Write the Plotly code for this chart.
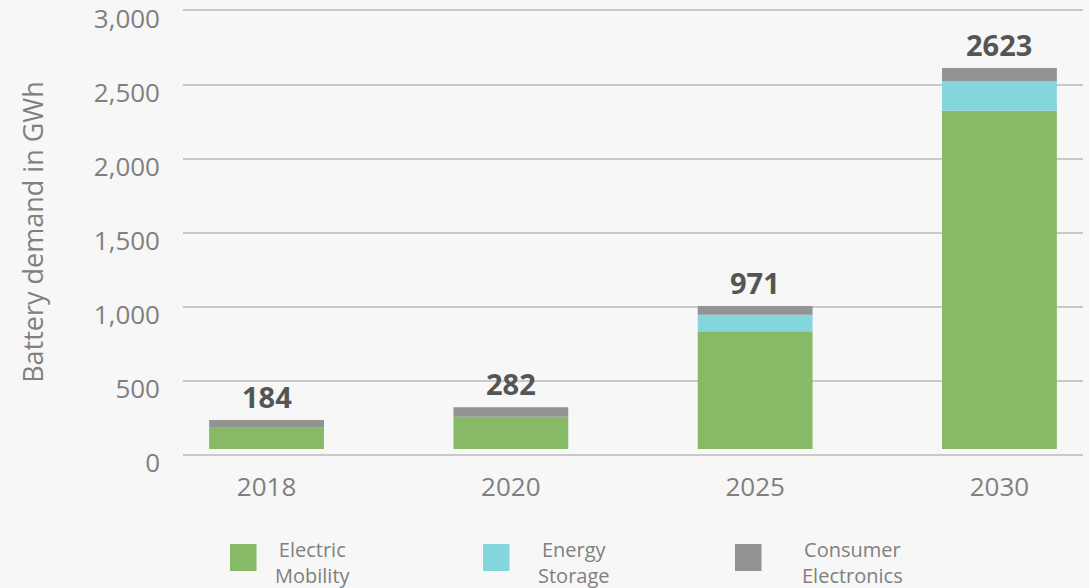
import plotly.graph_objects as go

# ---- data ----
years = ["2018", "2020", "2025", "2030"]
series_names = ["Electric<br>Mobility", "Energy<br>Storage", "Consumer<br>Electronics"]
electric_mobility = [144, 218, 796, 2283]
energy_storage = [0, 0, 110, 200]
consumer_electronics = [52, 65, 59, 88]
total_labels = ["184", "282", "971", "2623"]
y_ticks = [0, 500, 1000, 1500, 2000, 2500, 3000]
y_tick_text = ["0", "500", "1,000", "1,500", "2,000", "2,500", "3,000"]

# ---- style ----
BG = "#f7f7f7"
colors = ["#86ba67", "#84d6dd", "#939393"]
BAR_BASE = 40
FONT = "Open Sans"
GREY_TXT = "#808080"

fig = go.Figure()
series = [electric_mobility, energy_storage, consumer_electronics]
bases = [BAR_BASE] * len(years)
for name, vals, col in zip(series_names, series, colors):
    fig.add_trace(go.Bar(
        x=years, y=vals, base=list(bases), name=name.replace("<br>", " "),
        marker=dict(color=col, line=dict(width=0)), width=0.47,
        showlegend=False,
    ))
    bases = [b + v for b, v in zip(bases, vals)]

# totals on top (category axis -> use category index)
for i, (top, lab) in enumerate(zip(bases, total_labels)):
    fig.add_annotation(x=i, y=top, text=lab, showarrow=False, yanchor="bottom",
                       yshift=2, font=dict(family=FONT, size=29, color="#555555", weight="bold"))

# manual legend (pixel layout -> paper coords)
L, R, T, B = 183, 1083, 6, 458
W, H = R - L, B - T
def px(x):
    return (x - L) / W
def py(y):
    return (B - y) / H
legend_sq_x = [230, 483, 735]
legend_txt_x = [313, 574, 852]
for sx, tx, name, col in zip(legend_sq_x, legend_txt_x, series_names, colors):
    fig.add_shape(type="rect", xref="paper", yref="paper",
                  x0=px(sx), x1=px(sx + 26.5), y0=py(544), y1=py(571),
                  fillcolor=col, line=dict(width=0))
    fig.add_annotation(xref="paper", yref="paper", x=px(tx), y=py(562), text=name,
                       showarrow=False, xanchor="center", yanchor="middle", align="center",
                       borderpad=0, font=dict(family=FONT, size=20, color=GREY_TXT))

fig.update_layout(
    width=1089, height=588,
    paper_bgcolor=BG, plot_bgcolor=BG,
    margin=dict(l=L, r=1089 - R, t=T, b=588 - B, autoexpand=False),
    barmode="overlay",
    font=dict(family=FONT, color=GREY_TXT),
)
fig.update_xaxes(
    type="category", range=[-0.342, 3.342], showgrid=False, showline=False, zeroline=False,
    automargin=False,
    ticks="", ticklabelstandoff=11, tickfont=dict(family=FONT, size=26, color=GREY_TXT),
)
fig.update_yaxes(
    range=[-20, 3030], tickvals=y_ticks, ticktext=y_tick_text, automargin=False,
    showgrid=True, gridcolor="#c9c9c9", gridwidth=2, zeroline=False, showline=False,
    ticks="", ticklabelstandoff=22, ticklabeloverflow="allow", ticklabelshift=8,
    tickfont=dict(family=FONT, size=26, color=GREY_TXT),
    title=dict(text="Battery demand in GWh", standoff=42, font=dict(family=FONT, size=27, color=GREY_TXT)),
)

fig.write_html("out.html", config={"displayModeBar": False},
               post_script="document.body.style.margin='0';document.body.style.background='%s';" % BG)
